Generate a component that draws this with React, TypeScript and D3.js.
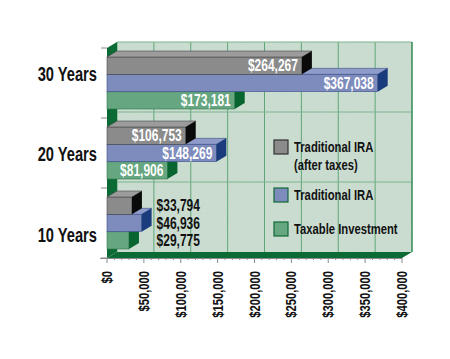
import React from "react";
import * as d3 from "d3";

const categories = ["30 Years", "20 Years", "10 Years"];
const seriesKeys = ["afterTax", "traditional", "taxable"];
const afterTaxValues = [264267, 106753, 33794];
const traditionalValues = [367038, 148269, 46936];
const taxableValues = [173181, 81906, 29775];
const legendLabels = [["Traditional IRA", "(after taxes)"], ["Traditional IRA"], ["Taxable Investment"]];
const xTickValues = [0, 50000, 100000, 150000, 200000, 250000, 300000, 350000, 400000];

const W = 450, H = 359;
const DX = 10, DY = -6;
const FONT = "'Liberation Sans',Arial,sans-serif";

const colors: Record<string, { front: string; top: string; side: string; stroke: string }> = {
  afterTax: { front: "#8b8b8b", top: "#9c9c9c", side: "#0a0a0a", stroke: "#4a4a4a" },
  traditional: { front: "#7d8bbd", top: "#8f9cca", side: "#1a3c7c", stroke: "#3c4f8a" },
  taxable: { front: "#66a680", top: "#78b38f", side: "#08652f", stroke: "#2f7a4c" },
};

const valuesByKey: Record<string, number[]> = {
  afterTax: afterTaxValues,
  traditional: traditionalValues,
  taxable: taxableValues,
};

const fmt = (v: number) => "$" + d3.format(",")(v);

function CText(props: {
  x: number; y: number; anchor?: string; size: number; sx?: number; rotate?: number;
  fill?: string; weight?: string; children: React.ReactNode;
}) {
  const { x, y, anchor = "start", size, sx = 0.72, rotate = 0, fill = "#111", weight = "bold", children } = props;
  return (
    <text
      transform={`translate(${x},${y}) rotate(${rotate}) scale(${sx},1)`}
      dy="0.36em"
      textAnchor={anchor}
      fill={fill}
      fontFamily={FONT}
      fontWeight={weight}
      fontSize={size}
    >
      {children}
    </text>
  );
}

export default function App() {
  const x = d3.scaleLinear().domain([0, 400000]).range([107, 402]);
  const y = d3.scaleBand<string>().domain(categories).range([48, 258]).padding(0);
  const bw = y.bandwidth();
  const x0 = x(0);
  const floorY = y.range()[1];
  const topY = y.range()[0];
  const labelShift = [-10, 0, 11];

  const poly = (pts: number[][]) => pts.map((p) => p.join(",")).join(" ");

  return (
    <svg width={W} height={H} style={{ display: "block", position: "absolute", left: 0, top: 0 }}>
      <defs>
        <filter id="noise" x="0" y="0" width="100%" height="100%">
          <feTurbulence type="fractalNoise" baseFrequency="0.9" numOctaves="1" seed="3" />
          <feColorMatrix type="matrix" values="0 0 0 0 0.35  0 0 0 0 0.45  0 0 0 0 0.38  0 0 0 0.35 0" />
          <feComposite in2="SourceGraphic" operator="in" />
        </filter>
      </defs>
      <rect x={0} y={0} width={W} height={H} fill="#ffffff" />
      {/* back wall */}
      <rect x={x0 + DX} y={topY + DY} width={x(400000) - x0} height={floorY - topY} fill="#cfe1d4" />
      <rect x={x0 + DX} y={topY + DY} width={x(400000) - x0} height={floorY - topY} fill="#cfe1d4" filter="url(#noise)" opacity={0.6} />
      {/* vertical gridlines */}
      {xTickValues.map((t) => (
        <line key={"g" + t} x1={x(t) + DX} x2={x(t) + DX} y1={topY + DY} y2={floorY + DY} stroke="#5fa677" strokeWidth={1} />
      ))}
      {/* horizontal gridlines */}
      {categories.map((c) => (
        <line key={"h" + c} x1={x0 + DX} x2={x(400000) + DX} y1={(y(c) as number) + DY} y2={(y(c) as number) + DY} stroke="#7ab48e" strokeWidth={1} />
      ))}
      <line x1={x(400000) + DX} x2={x(400000) + DX} y1={topY + DY} y2={floorY + DY} stroke="#1f7a45" strokeWidth={1} />
      {/* left wall */}
      <polygon points={poly([[x0, topY], [x0 + DX, topY + DY], [x0 + DX, floorY + DY], [x0, floorY]])} fill="#0c6a34" />
      {/* floor */}
      <polygon points={poly([[x0, floorY], [x0 + DX, floorY + DY], [x(400000) + DX, floorY + DY], [x(400000), floorY]])} fill="#0c6a34" />
      {/* axes */}
      <line x1={100} x2={x(400000)} y1={floorY + 0.5} y2={floorY + 0.5} stroke="#8a8a8a" strokeWidth={1} />
      {categories.map((c) => (
        <line key={"yt" + c} x1={101} x2={x0} y1={(y(c) as number)} y2={(y(c) as number)} stroke="#8a8a8a" />
      ))}
      <line x1={101} x2={x0} y1={floorY} y2={floorY} stroke="#8a8a8a" />
      {d3.range(0, 400001, 10000).map((t) => (
        <line key={"mt" + t} x1={x(t)} x2={x(t)} y1={floorY} y2={floorY + (t % 50000 === 0 ? 5 : 2)} stroke="#8a8a8a" />
      ))}
      {/* bars */}
      {categories.map((c, ci) => {
        const inner = d3.scaleBand<string>().domain(seriesKeys).range([(y(c) as number) + 9, (y(c) as number) + 61]).padding(0);
        const h = inner.bandwidth();
        const maxEnd = d3.max(seriesKeys, (k) => x(valuesByKey[k][ci])) as number;
        const order = [...seriesKeys].reverse();
        return (
          <g key={c}>
            {order.map((k) => {
              const v = valuesByKey[k][ci];
              const xe = x(v);
              const yy = inner(k) as number;
              const col = colors[k];
              return (
                <g key={k}>
                  <rect x={x0} y={yy} width={xe - x0} height={h} fill={col.front} stroke={col.stroke} strokeWidth={0.6} />
                  <polygon points={poly([[x0, yy], [x0 + DX, yy + DY], [xe + DX, yy + DY], [xe, yy]])} fill={col.top} stroke={col.stroke} strokeWidth={0.6} />
                  <polygon points={poly([[xe, yy], [xe + DX, yy + DY], [xe + DX, yy + h + DY], [xe, yy + h]])} fill={col.side} />
                </g>
              );
            })}
            {seriesKeys.map((k) => {
              const v = valuesByKey[k][ci];
              const xe = x(v);
              const yy = inner(k) as number;
              const inside = xe - x0 > 60;
              return (
                <CText
                  key={"l" + k}
                  x={inside ? xe - 4 : maxEnd + DX + 5}
                  y={yy + h / 2}
                  anchor={inside ? "end" : "start"}
                  fill={inside ? "#ffffff" : "#111111"}
                  size={16}
                  sx={0.75}
                >
                  {fmt(v)}
                </CText>
              );
            })}
            <CText x={97} y={(y(c) as number) + bw / 2 + labelShift[ci]} anchor="end" size={21} sx={0.7}>
              {c}
            </CText>
          </g>
        );
      })}
      {/* x tick labels */}
      {xTickValues.map((t) => (
        <CText key={"xl" + t} x={x(t)} y={floorY + 13} rotate={-90} anchor="end" size={14} sx={0.8}>
          {fmt(t)}
        </CText>
      ))}
      {/* legend */}
      {seriesKeys.map((k, i) => {
        const ly = [147, 195, 229][i];
        return (
          <g key={"lg" + k}>
            <rect x={274} y={ly - 7} width={14} height={14} fill={colors[k].front} stroke={i === 0 ? "#333" : "#0f6a36"} strokeWidth={1.2} />
            {legendLabels[i].map((line, li) => (
              <CText key={li} x={294} y={ly + li * 18} size={15} sx={0.75}>
                {line}
              </CText>
            ))}
          </g>
        );
      })}
    </svg>
  );
}
